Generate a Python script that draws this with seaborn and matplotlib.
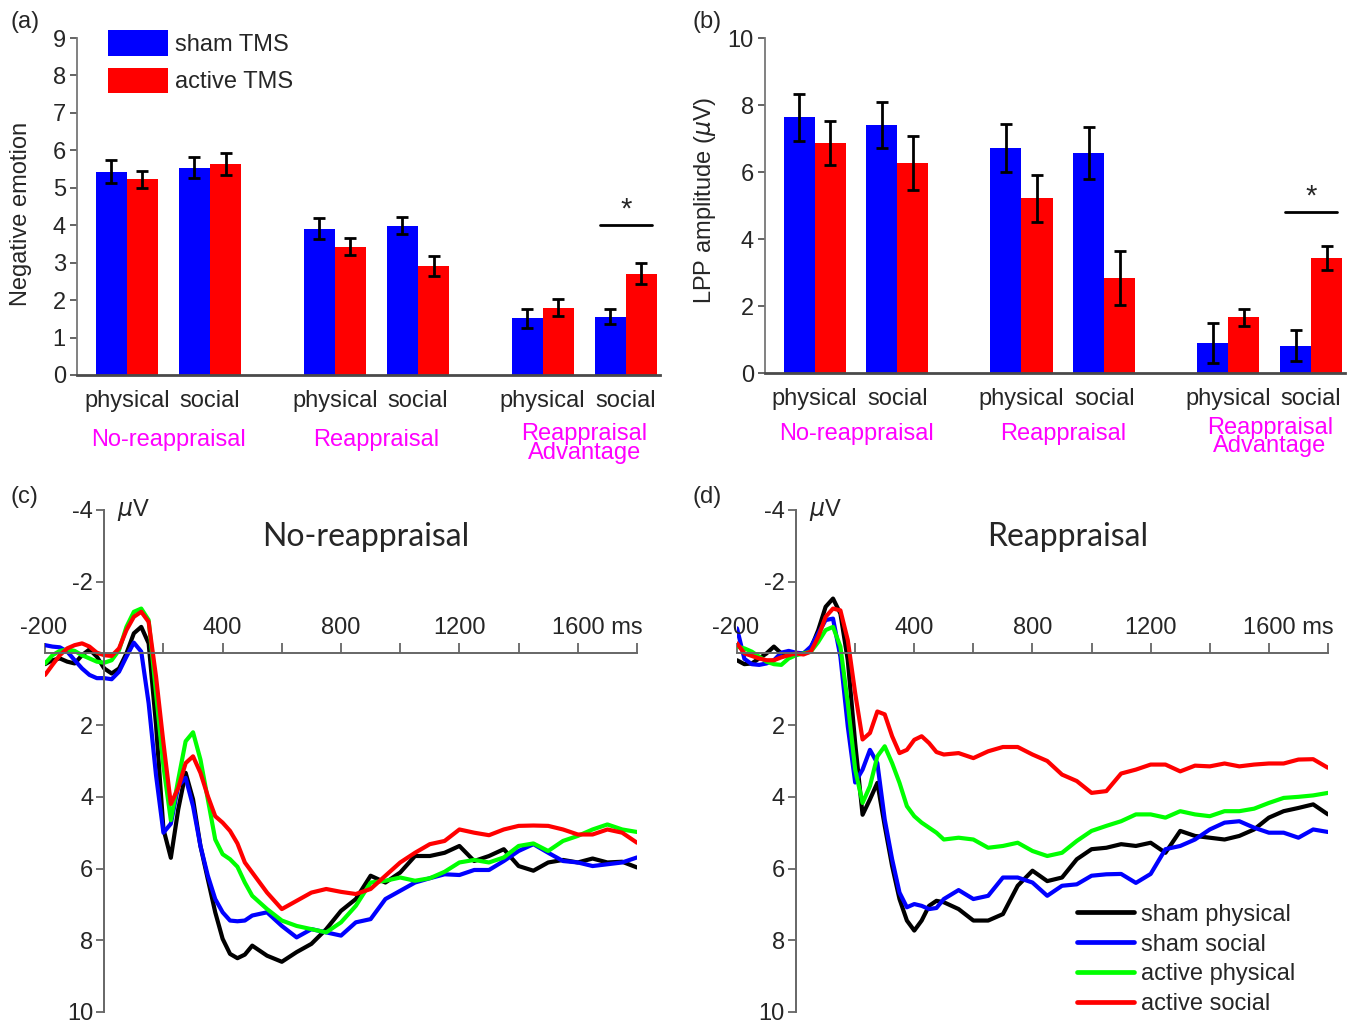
import numpy as np
import pandas as pd
import matplotlib.pyplot as plt
from matplotlib.patches import Patch
import seaborn as sns

sns.set_theme(style="white")
plt.rcParams["font.family"] = ["Liberation Sans", "DejaVu Sans"]
plt.rcParams["mathtext.fontset"] = "dejavusans"
plt.rcParams["axes.unicode_minus"] = False

# ---------------- bar data (panels a, b) ----------------
conditions = ["physical", "social", "physical", "social", "physical", "social"]
groups = ["No-reappraisal", "Reappraisal", "Reappraisal\nAdvantage"]
tms_levels = ["sham TMS", "active TMS"]

neg_sham = [5.43, 5.54, 3.91, 3.99, 1.51, 1.56]
neg_sham_se = [0.31, 0.29, 0.27, 0.22, 0.25, 0.20]
neg_active = [5.23, 5.63, 3.43, 2.91, 1.80, 2.71]
neg_active_se = [0.23, 0.29, 0.22, 0.27, 0.23, 0.27]

lpp_sham = [7.63, 7.41, 6.72, 6.57, 0.89, 0.82]
lpp_sham_se = [0.70, 0.69, 0.71, 0.78, 0.60, 0.45]
lpp_active = [6.87, 6.27, 5.21, 2.84, 1.66, 3.44]
lpp_active_se = [0.66, 0.82, 0.70, 0.80, 0.25, 0.35]

# ---------------- ERP data (panels c, d) ----------------
time_ms = [-200, -175, -150, -125, -100, -75, -50, -25,
           0, 25, 50, 75, 100, 125, 150, 175,
           200, 225, 250, 275, 300, 325, 350, 375,
           400, 425, 450, 475, 500,
           550, 600, 650, 700, 750, 800, 850, 900,
           950, 1000, 1050, 1100, 1150, 1200, 1250, 1300,
           1350, 1400, 1450, 1500, 1550, 1600, 1650, 1700, 1750, 1800]
erp_labels = ["sham physical", "sham social", "active physical", "active social"]

noreap_sham_phys = [0.30, 0.19, 0.14, 0.23, 0.28, 0.05, -0.11, 0.09,
                    0.42, 0.56, 0.42, 0.00, -0.56, -0.74, -0.28, 2.00,
                    4.90, 5.70, 4.35, 3.33, 4.07, 5.37, 6.30, 7.22,
                    7.96, 8.38, 8.50, 8.40, 8.15,
                    8.43, 8.60, 8.33, 8.10, 7.69, 7.18, 6.85, 6.20,
                    6.39, 6.11, 5.65, 5.65, 5.56, 5.37, 5.79, 5.65,
                    5.46, 5.93, 6.06, 5.83, 5.76, 5.83, 5.72, 5.83, 5.81, 5.97]
noreap_sham_soc = [-0.23, -0.19, -0.17, -0.05, 0.19, 0.42, 0.60, 0.69,
                   0.69, 0.72, 0.51, 0.09, -0.30, -0.05, 1.39, 3.40,
                   5.00, 4.75, 3.70, 3.47, 4.26, 5.37, 6.20, 6.85,
                   7.22, 7.45, 7.47, 7.45, 7.31,
                   7.22, 7.60, 7.92, 7.69, 7.78, 7.87, 7.50, 7.41,
                   6.85, 6.62, 6.39, 6.27, 6.16, 6.18, 6.04, 6.04,
                   5.79, 5.51, 5.32, 5.56, 5.79, 5.83, 5.93, 5.88, 5.83, 5.69]
noreap_act_phys = [0.28, 0.05, -0.07, -0.11, -0.07, 0.05, 0.14, 0.23,
                   0.26, 0.19, -0.09, -0.74, -1.16, -1.25, -0.93, 1.10,
                   3.15, 4.65, 3.52, 2.45, 2.20, 2.96, 4.07, 5.19,
                   5.60, 5.74, 5.95, 6.39, 6.76,
                   7.13, 7.45, 7.60, 7.69, 7.78, 7.50, 7.04, 6.39,
                   6.34, 6.25, 6.34, 6.27, 6.09, 5.83, 5.76, 5.83,
                   5.69, 5.37, 5.30, 5.51, 5.23, 5.09, 4.91, 4.77, 4.91, 4.98]
noreap_act_soc = [0.60, 0.32, 0.05, -0.14, -0.23, -0.28, -0.19, -0.02,
                  0.05, 0.07, -0.14, -0.65, -1.02, -1.16, -0.88, 0.65,
                  2.50, 4.20, 3.75, 3.06, 2.87, 3.33, 3.98, 4.54,
                  4.72, 4.95, 5.30, 5.83, 6.11,
                  6.67, 7.13, 6.90, 6.67, 6.57, 6.65, 6.71, 6.57,
                  6.20, 5.83, 5.56, 5.32, 5.23, 4.91, 5.00, 5.07,
                  4.91, 4.81, 4.80, 4.81, 4.91, 5.05, 5.05, 4.91, 5.00, 5.28]

reap_sham_phys = [0.19, 0.30, 0.28, 0.14, 0.00, -0.19, 0.00, 0.00,
                  0.02, 0.00, -0.14, -0.65, -1.30, -1.53, -1.11, 0.19,
                  2.50, 4.50, 4.07, 3.61, 4.81, 5.93, 6.85, 7.45,
                  7.73, 7.45, 7.04, 6.90, 6.94,
                  7.13, 7.45, 7.45, 7.27, 6.48, 6.06, 6.35, 6.25,
                  5.74, 5.46, 5.42, 5.32, 5.37, 5.28, 5.56, 4.95,
                  5.09, 5.14, 5.19, 5.09, 4.91, 4.58, 4.40, 4.31, 4.21, 4.49]
reap_sham_soc = [-0.70, 0.15, 0.30, 0.32, 0.28, 0.19, -0.02, -0.07,
                 -0.02, 0.00, -0.19, -0.56, -0.93, -0.97, 0.09, 2.04,
                 3.60, 3.24, 2.69, 3.06, 4.63, 5.74, 6.67, 7.08,
                 6.99, 7.04, 7.13, 7.10, 6.85,
                 6.60, 6.85, 6.76, 6.25, 6.25, 6.39, 6.76, 6.48,
                 6.44, 6.20, 6.16, 6.15, 6.40, 6.15, 5.46, 5.37,
                 5.19, 4.91, 4.72, 4.68, 4.86, 5.00, 5.00, 5.14, 4.91, 4.98]
reap_act_phys = [-0.19, -0.14, -0.05, 0.09, 0.23, 0.30, 0.32, 0.14,
                 0.05, 0.00, -0.05, -0.32, -0.65, -0.74, -0.19, 1.39,
                 3.24, 4.17, 3.70, 2.87, 2.59, 3.06, 3.61, 4.26,
                 4.54, 4.72, 4.86, 5.00, 5.19,
                 5.14, 5.19, 5.42, 5.37, 5.28, 5.51, 5.65, 5.56,
                 5.23, 4.95, 4.81, 4.68, 4.49, 4.49, 4.58, 4.40,
                 4.49, 4.54, 4.40, 4.40, 4.33, 4.17, 4.03, 4.00, 3.96, 3.89]
reap_act_soc = [-0.28, 0.00, 0.07, 0.14, 0.19, 0.19, 0.11, 0.05,
                0.00, 0.03, -0.05, -0.46, -1.02, -1.25, -1.20, -0.37,
                1.11, 2.40, 2.22, 1.62, 1.70, 2.31, 2.78, 2.69,
                2.41, 2.31, 2.50, 2.75, 2.82,
                2.78, 2.92, 2.73, 2.61, 2.61, 2.82, 3.00, 3.38,
                3.56, 3.89, 3.84, 3.35, 3.24, 3.10, 3.10, 3.29,
                3.13, 3.15, 3.07, 3.15, 3.10, 3.07, 3.07, 2.96, 2.95, 3.19]

BLUE, RED, GREEN, MAGENTA = "#0000FF", "#FF0000", "#00FF00", "#FF00FF"
AXC = "#4a4a4a"
FS = 17

# positions of the six bar pairs (gap between the three groups)
pos = [g * 2.5 + k for g in range(3) for k in range(2)]


def bar_panel(ax, sham, sham_se, active, active_se, ymax, yticks, ylabel,
              ylab_xy, sig_y, lab_off, grp_off, grp_ls):
    df = pd.DataFrame({
        "pos": pos * 2,
        "value": sham + active,
        "tms": [tms_levels[0]] * 6 + [tms_levels[1]] * 6,
    })
    sns.barplot(data=df, x="pos", y="value", hue="tms", hue_order=tms_levels,
                palette=[BLUE, RED], native_scale=True, width=0.75,
                errorbar=None, legend=False, linewidth=0, saturation=1, ax=ax)
    for cont, se in zip(ax.containers, [sham_se, active_se]):
        for bar in cont:
            xc = bar.get_x() + bar.get_width() / 2
            i = int(np.argmin(np.abs(np.array(pos) - xc)))
            ax.errorbar(xc, bar.get_height(), yerr=se[i], fmt="none",
                        ecolor="black", elinewidth=2, capsize=4, capthick=2)
    ax.set_xlim(-0.6, 6.41)
    ax.set_ylim(0, ymax)
    ax.set_yticks(yticks)
    ax.set_xticks(pos)
    ax.set_xticklabels(conditions, fontsize=FS)
    ax.tick_params(axis="x", length=0, pad=11)
    ax.tick_params(axis="y", direction="out", length=5, width=1.2,
                   color=AXC, labelsize=FS, pad=3, left=True)
    ax.set_xlabel("")
    ax.set_ylabel(ylabel, fontsize=FS)
    ax.yaxis.set_label_coords(*ylab_xy)
    for s in ["top", "right"]:
        ax.spines[s].set_visible(False)
    ax.spines["left"].set_color("#777777")
    ax.spines["left"].set_linewidth(1.3)
    ax.spines["bottom"].set_color(AXC)
    ax.spines["bottom"].set_linewidth(2)
    for g, name in enumerate(groups):
        gx = (pos[2 * g] + pos[2 * g + 1]) / 2
        off = grp_off if "\n" in name else lab_off
        ax.annotate(name, xy=(gx, 0), xycoords=("data", "axes fraction"),
                    xytext=(0, off), textcoords="offset points",
                    ha="center", va="center", color=MAGENTA, fontsize=FS,
                    linespacing=grp_ls)
    # significance marker on the social reappraisal-advantage pair
    ax.plot([pos[5] - 0.31, pos[5] + 0.31], [sig_y, sig_y], color="black", lw=2)
    ax.annotate("*", xy=(pos[5], sig_y), xytext=(0, 1), textcoords="offset points",
                ha="center", va="bottom", fontsize=FS + 4)


def erp_panel(ax, series, title, title_x, legend):
    df = pd.DataFrame({
        "time": time_ms * 4,
        "amp": sum(series, []),
        "cond": [lab for lab in erp_labels for _ in time_ms],
    })
    sns.lineplot(data=df, x="time", y="amp", hue="cond", hue_order=erp_labels,
                 palette=["black", BLUE, GREEN, RED], lw=3, errorbar=None,
                 legend=legend, ax=ax)
    for line in ax.get_lines():
        line.set_solid_joinstyle("round")
        line.set_solid_capstyle("round")
    ax.set_xlim(-200, 1800)
    ax.set_ylim(10, -4)
    ax.spines["right"].set_visible(False)
    ax.spines["bottom"].set_visible(False)
    ax.spines["left"].set_position(("data", 0))
    ax.spines["top"].set_position(("data", 0))
    for s in ["left", "top"]:
        ax.spines[s].set_color("#666666")
        ax.spines[s].set_linewidth(1.4)
    ax.xaxis.set_ticks_position("top")
    ax.set_xticks(range(-200, 1801, 200))
    ax.set_xticklabels([])
    ax.tick_params(axis="x", direction="out", length=7, width=1.3, color="#666666", top=True)
    ax.set_yticks([-4, -2, 2, 4, 6, 8, 10])
    ax.tick_params(axis="y", direction="out", length=6, width=1.3, color="#666666",
                   labelsize=FS, pad=2, left=True)
    ax.set_xlabel("")
    ax.set_ylabel("")
    for xv, lab, dx in [(-200, "-200", -1), (400, "400", 0), (800, "800", 0),
                        (1200, "1200", 0), (1600, "1600 ms", 14)]:
        ax.annotate(lab, xy=(xv, 0), xytext=(dx, 14), textcoords="offset points",
                    ha="center", va="baseline", fontsize=FS)
    ax.annotate(r"$\mu$V", xy=(0, -4), xytext=(9, 0), textcoords="offset points",
                ha="left", va="center", fontsize=FS)
    ax.text(title_x, 0.946, title, transform=ax.transAxes, ha="center", va="center",
            fontsize=23, family=["Lato", "DejaVu Sans"])
    if legend:
        handles, labels = ax.get_legend_handles_labels()
        leg = ax.legend(handles, labels, loc="lower right", bbox_to_anchor=(0.96, -0.025),
                        frameon=False, fontsize=FS, handlelength=2.4,
                        handletextpad=0.3, labelspacing=0.33, borderaxespad=0)
        for line in leg.get_lines():
            line.set_linewidth(3.4)


fig = plt.figure(figsize=(13.53, 10.22), dpi=100)
ax_a = fig.add_axes([0.0569, 0.6331, 0.4309, 0.3297])
ax_b = fig.add_axes([0.5654, 0.6350, 0.4287, 0.3278])
ax_c = fig.add_axes([0.0333, 0.0098, 0.4375, 0.4912])
ax_d = fig.add_axes([0.5447, 0.0098, 0.4368, 0.4912])

bar_panel(ax_a, neg_sham, neg_sham_se, neg_active, neg_active_se, 9, range(0, 10),
          "Negative emotion", (-0.077, 0.478), 4.0, -47, -49.5, 0.85)
bar_panel(ax_b, lpp_sham, lpp_sham_se, lpp_active, lpp_active_se, 10, range(0, 11, 2),
          r"LPP amplitude ($\mu$V)", (-0.081, 0.516), 4.82, -44, -46, 0.78)

ax_a.legend(handles=[Patch(facecolor=BLUE, edgecolor="none"),
                     Patch(facecolor=RED, edgecolor="none")],
            labels=tms_levels, loc="upper left", bbox_to_anchor=(0.053, 1.024),
            frameon=False, fontsize=FS, handlelength=2.55, handleheight=1.3,
            handletextpad=0.3, labelspacing=0.5, borderaxespad=0, borderpad=0)

erp_panel(ax_c, [noreap_sham_phys, noreap_sham_soc, noreap_act_phys, noreap_act_soc],
          "No-reappraisal", 0.542, False)
erp_panel(ax_d, [reap_sham_phys, reap_sham_soc, reap_act_phys, reap_act_soc],
          "Reappraisal", 0.56, True)

for lab, x, y in [("(a)", 10, 22), ("(b)", 692, 22), ("(c)", 10, 497), ("(d)", 692, 497)]:
    fig.text(x / 1353, 1 - y / 1022, lab, ha="left", va="center", fontsize=FS)

fig.savefig("out.png", dpi=100)
